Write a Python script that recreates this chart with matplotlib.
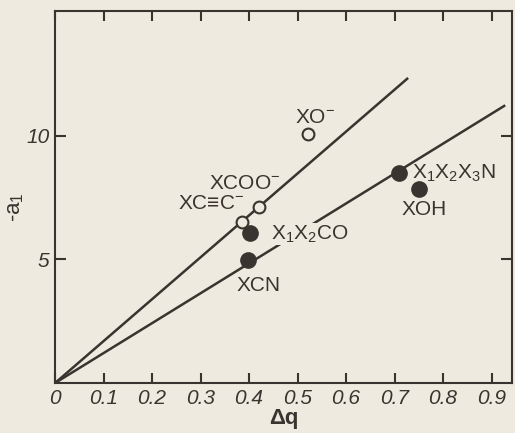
import matplotlib.pyplot as plt

# values
open_dq = [0.386, 0.421, 0.522]
open_a1 = [6.5, 7.11, 10.07]
filled_dq = [0.397, 0.402, 0.710, 0.751]
filled_a1 = [4.96, 6.06, 8.50, 7.85]
upper_line_dq = [0.0, 0.726]
upper_line_a1 = [0.0, 12.31]
lower_line_dq = [0.0, 0.926]
lower_line_a1 = [0.0, 11.21]
x_ticks = [0, 0.1, 0.2, 0.3, 0.4, 0.5, 0.6, 0.7, 0.8, 0.9]
x_tick_labels = ['0', '0.1', '0.2', '0.3', '0.4', '0.5', '0.6', '0.7', '0.8', '0.9']
y_ticks = [5, 10]
y_tick_labels = ['5', '10']

paper = '#eeeadf'
ink = '#3a3430'

plt.rcParams['font.family'] = ['Liberation Sans', 'DejaVu Sans']
plt.rcParams['mathtext.fontset'] = 'custom'
plt.rcParams['mathtext.rm'] = 'Liberation Sans'
plt.rcParams['mathtext.it'] = 'Liberation Sans:italic'

fig = plt.figure(figsize=(5.15, 4.33), dpi=100, facecolor=paper)
ax = fig.add_axes([0.107, 0.1155, 0.887, 0.859])
ax.set_facecolor(paper)

ax.plot(upper_line_dq, upper_line_a1, color=ink, lw=1.8, zorder=2)
ax.plot(lower_line_dq, lower_line_a1, color=ink, lw=1.8, zorder=2)
ax.plot(open_dq, open_a1, 'o', ms=8.5, mfc=paper, mec=ink, mew=1.5, zorder=3)
ax.plot(filled_dq, filled_a1, 'o', ms=11, mfc=ink, mec=ink, zorder=3)

fs = 15
ax.text(0.536, 10.74, 'XO$^{-}$', ha='center', va='center', fontsize=fs, color=ink)
ax.text(0.392, 8.08, 'XCOO$^{-}$', ha='center', va='center', fontsize=fs, color=ink)
ax.text(0.322, 7.25, 'XC\u2261C$^{-}$', ha='center', va='center', fontsize=fs, color=ink)
ax.text(0.445, 6.02, 'X$_1$X$_2$CO', ha='left', va='center', fontsize=fs, color=ink,
        zorder=4, bbox=dict(facecolor=paper, edgecolor='none', pad=0.5))
ax.text(0.419, 3.95, 'XCN', ha='center', va='center', fontsize=fs, color=ink)
ax.text(0.737, 8.48, 'X$_1$X$_2$X$_3$N', ha='left', va='center', fontsize=fs, color=ink)
ax.text(0.761, 7.04, 'XOH', ha='center', va='center', fontsize=fs, color=ink)

ax.set_xlim(0, 0.942)
ax.set_ylim(0, 15.05)
ax.set_xticks(x_ticks)
ax.set_xticklabels(x_tick_labels, fontstyle='italic', fontsize=fs, color=ink)
ax.set_yticks(y_ticks)
ax.set_yticklabels(y_tick_labels, fontstyle='italic', fontsize=fs, color=ink)
ax.tick_params(direction='in', length=7, width=1.5, color=ink, pad=4,
               top=True, right=True)
ax.tick_params(axis='y', length=8)
for s in ax.spines.values():
    s.set_linewidth(1.5)
    s.set_color(ink)

ax.set_xlabel('\u0394q', fontsize=16, fontweight='bold', color=ink, labelpad=0)
ax.text(-0.0875, 0.473, '-a$_1$', transform=ax.transAxes, rotation=90,
        ha='center', va='center', fontsize=16, color=ink)

fig.savefig('out.png', dpi=100, facecolor=paper)
